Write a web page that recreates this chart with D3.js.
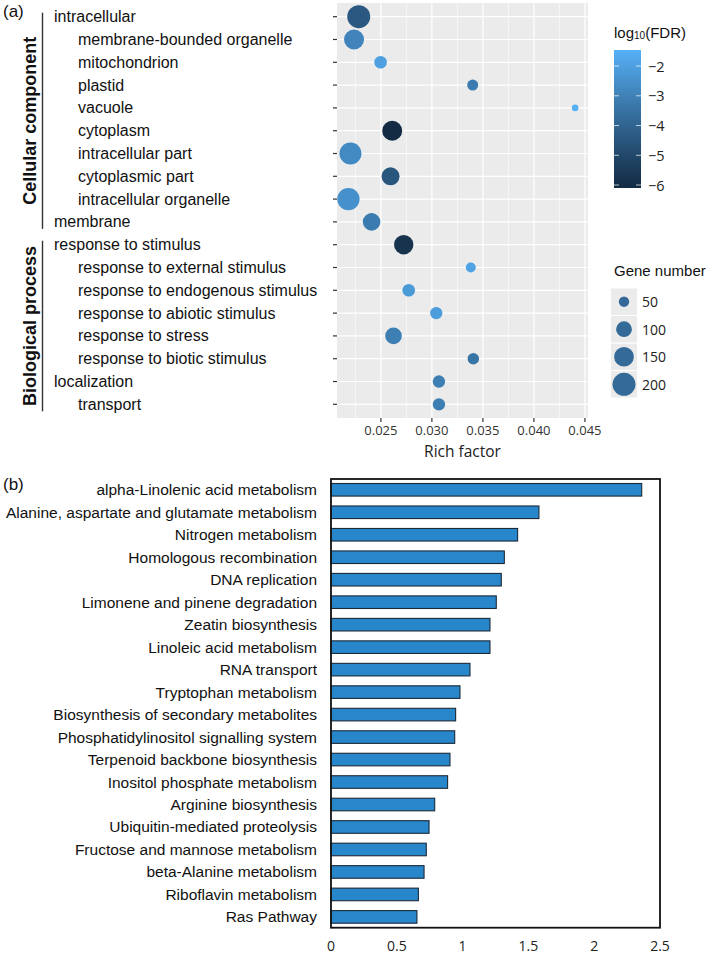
<!DOCTYPE html>
<html><head><meta charset="utf-8">
<script src="https://cdn.jsdelivr.net/npm/d3@7"></script>
<style>
body{margin:0;background:#fff;}
svg{display:block;font-family:"Liberation Sans",Arial,sans-serif;}
</style>
</head><body>
<svg id="chart" width="709" height="957"></svg>
<script>
// ---------- Panel (a) data ----------
const goTerms = ["intracellular","membrane-bounded organelle","mitochondrion","plastid","vacuole",
  "cytoplasm","intracellular part","cytoplasmic part","intracellular organelle","membrane",
  "response to stimulus","response to external stimulus","response to endogenous stimulus",
  "response to abiotic stimulus","response to stress","response to biotic stimulus",
  "localization","transport"];
const goIndent = [0,1,1,1,1,1,1,1,1,0, 0,1,1,1,1,1,0,1];
const goGroupOf = [0,0,0,0,0,0,0,0,0,0, 1,1,1,1,1,1,1,1];
const goGroups = ["Cellular component","Biological process"];
const richFactor = [0.02283,0.02237,0.02497,0.03400,0.04404,0.02611,0.02202,0.02595,0.02182,0.02409,
  0.02724,0.03381,0.02773,0.03043,0.02624,0.03406,0.03069,0.03069];
const geneNumber = [200,154,68,55,27,154,184,127,190,122, 146,47,68,66,110,59,66,66];
const log10FDR = [-4.4,-2.9,-2.0,-3.2,-1.46,-6.1,-2.7,-4.5,-2.5,-3.2, -5.8,-1.9,-2.2,-2.1,-3.1,-3.4,-3.1,-3.1];
const xTicksA = [0.025,0.030,0.035,0.040,0.045];
const fdrTicks = [-2,-3,-4,-5,-6];
const sizeBreaks = [50,100,150,200];

// ---------- Panel (b) data ----------
const pathways = ["alpha-Linolenic acid metabolism","Alanine, aspartate and glutamate metabolism",
  "Nitrogen metabolism","Homologous recombination","DNA replication","Limonene and pinene degradation",
  "Zeatin biosynthesis","Linoleic acid metabolism","RNA transport","Tryptophan metabolism",
  "Biosynthesis of secondary metabolites","Phosphatidylinositol signalling system",
  "Terpenoid backbone biosynthesis","Inositol phosphate metabolism","Arginine biosynthesis",
  "Ubiquitin-mediated proteolysis","Fructose and mannose metabolism","beta-Alanine metabolism",
  "Riboflavin metabolism","Ras Pathway"];
const enrichment = [2.361,1.580,1.418,1.317,1.294,1.256,1.208,1.208,1.056,0.980,
  0.947,0.940,0.904,0.886,0.788,0.745,0.724,0.707,0.664,0.653];
const xTicksB = [0,0.5,1,1.5,2,2.5];

const svg = d3.select("#chart");

// ================= Panel (a) =================
const A = {left:337, right:588, top:3, bottom:418};
const x = d3.scaleLinear().domain([0.0207,0.0453]).range([A.left,A.right]);
const y = d3.scalePoint().domain(goTerms).range([A.top,A.bottom]).padding(0.6);
const fdrExtent = d3.extent(log10FDR);
const color = d3.scaleLinear().domain(fdrExtent).range(["#132B43","#56B1F7"]).interpolate(d3.interpolateLab);
const area = d3.scaleLinear().domain([50,200]).range([27,132]);
const radius = n => Math.sqrt(Math.max(area(n),4));

const gA = svg.append("g");
gA.append("rect").attr("x",A.left).attr("y",A.top).attr("width",A.right-A.left).attr("height",A.bottom-A.top).attr("fill","#EBEBEB");
// minor grid
const minor = [];
for(let i=0;i<xTicksA.length-1;i++) minor.push((xTicksA[i]+xTicksA[i+1])/2);
minor.unshift(xTicksA[0]-0.0025);
gA.selectAll(".mn").data(minor.filter(v=>x(v)>A.left && x(v)<A.right)).join("line")
  .attr("x1",d=>x(d)).attr("x2",d=>x(d)).attr("y1",A.top).attr("y2",A.bottom)
  .attr("stroke","#fff").attr("stroke-width",0.6);
gA.selectAll(".mj").data(xTicksA).join("line")
  .attr("x1",d=>x(d)).attr("x2",d=>x(d)).attr("y1",A.top).attr("y2",A.bottom)
  .attr("stroke","#fff").attr("stroke-width",1.2);
gA.selectAll(".hz").data(goTerms).join("line")
  .attr("x1",A.left).attr("x2",A.right).attr("y1",d=>y(d)).attr("y2",d=>y(d))
  .attr("stroke","#fff").attr("stroke-width",1.2);
// ticks
gA.selectAll(".yt").data(goTerms).join("line")
  .attr("x1",A.left-4).attr("x2",A.left).attr("y1",d=>y(d)).attr("y2",d=>y(d))
  .attr("stroke","#333").attr("stroke-width",1.2);
gA.selectAll(".xt").data(xTicksA).join("line")
  .attr("x1",d=>x(d)).attr("x2",d=>x(d)).attr("y1",A.bottom).attr("y2",A.bottom+4)
  .attr("stroke","#333").attr("stroke-width",1.2);
gA.selectAll(".xl").data(xTicksA).join("text")
  .attr("x",d=>x(d)).attr("y",430).attr("text-anchor","middle").attr("dominant-baseline","central")
  .attr("font-family","'Open Sans',sans-serif").attr("font-size",13).attr("fill","#333")
  .text(d=>d3.format(".3f")(d));
gA.append("text").attr("x",(A.left+A.right)/2).attr("y",451).attr("text-anchor","middle")
  .attr("dominant-baseline","central").attr("font-family","'Open Sans',sans-serif").attr("font-size",15.5)
  .attr("fill","#222").text("Rich factor");
// y labels
gA.selectAll(".yl").data(goTerms).join("text")
  .attr("x",(d,i)=>goIndent[i]?78:54).attr("y",d=>y(d)).attr("dominant-baseline","central")
  .attr("font-size",16).attr("fill","#111").text(d=>d);
// group brackets
goGroups.forEach((g,gi)=>{
  const rows = goTerms.filter((t,i)=>goGroupOf[i]===gi);
  const y0 = y(rows[0])-4, y1 = y(rows[rows.length-1])+7;
  gA.append("line").attr("x1",42.5).attr("x2",42.5).attr("y1",y0).attr("y2",y1)
    .attr("stroke","#333").attr("stroke-width",1.4);
  gA.append("text").attr("transform",`translate(30,${(y0+y1)/2}) rotate(-90)`)
    .attr("text-anchor","middle").attr("dominant-baseline","central")
    .attr("font-size",18).attr("font-weight","bold").attr("fill","#111").text(g);
});
// points
gA.selectAll(".pt").data(goTerms).join("circle")
  .attr("cx",(d,i)=>x(richFactor[i])).attr("cy",d=>y(d))
  .attr("r",(d,i)=>radius(geneNumber[i])).attr("fill",(d,i)=>color(log10FDR[i]));

svg.append("text").attr("x",3).attr("y",17).attr("font-size",17).attr("fill","#111").text("(a)");

// ---- colour legend ----
const cb = {x:614, w:27, top:50, bottom:188};
const cy = d3.scaleLinear().domain([fdrExtent[1],fdrExtent[0]]).range([cb.top,cb.bottom]);
const defs = svg.append("defs");
const grad = defs.append("linearGradient").attr("id","fdrGrad").attr("x1",0).attr("x2",0).attr("y1",0).attr("y2",1);
d3.range(0,1.0001,0.1).forEach(t=>{
  grad.append("stop").attr("offset",t).attr("stop-color",color(fdrExtent[1]+(fdrExtent[0]-fdrExtent[1])*t));
});
svg.append("text").attr("x",614).attr("y",32).attr("dominant-baseline","central").attr("font-size",15).attr("fill","#111")
  .call(t=>{t.append("tspan").text("log");
    t.append("tspan").attr("font-size",10).attr("dy",3).text("10");
    t.append("tspan").attr("dy",-3).text("(FDR)");});
svg.append("rect").attr("x",cb.x).attr("y",cb.top).attr("width",cb.w).attr("height",cb.bottom-cb.top).attr("fill","url(#fdrGrad)");
const gcb = svg.append("g");
fdrTicks.forEach(v=>{
  gcb.append("line").attr("x1",cb.x).attr("x2",cb.x+5).attr("y1",cy(v)).attr("y2",cy(v)).attr("stroke","#fff").attr("stroke-opacity",0.7);
  gcb.append("line").attr("x1",cb.x+cb.w-5).attr("x2",cb.x+cb.w).attr("y1",cy(v)).attr("y2",cy(v)).attr("stroke","#fff").attr("stroke-opacity",0.7);
  gcb.append("text").attr("x",648).attr("y",cy(v)).attr("dominant-baseline","central").attr("font-family","'Open Sans',sans-serif")
    .attr("font-size",14.5).attr("fill","#222").text("\u2212"+Math.abs(v));
});

// ---- size legend ----
svg.append("text").attr("x",614).attr("y",270).attr("dominant-baseline","central").attr("font-size",15).attr("fill","#111").text("Gene number");
const sizeY = d3.scalePoint().domain(sizeBreaks).range([301.7,384.3]);
const gs = svg.append("g");
gs.selectAll("rect").data(sizeBreaks).join("rect")
  .attr("x",611).attr("y",d=>sizeY(d)-13.2).attr("width",26).attr("height",26.4).attr("fill","#EBEBEB");
gs.selectAll("circle").data(sizeBreaks).join("circle")
  .attr("cx",624).attr("cy",d=>sizeY(d)).attr("r",d=>radius(d)).attr("fill","#336A98");
gs.selectAll("text").data(sizeBreaks).join("text")
  .attr("x",642).attr("y",d=>sizeY(d)).attr("dominant-baseline","central").attr("font-family","'Open Sans',sans-serif")
  .attr("font-size",14).attr("fill","#222").text(d=>d);

// ================= Panel (b) =================
const B = {left:331, right:660, top:479, bottom:927.7};
const xb = d3.scaleLinear().domain([0,2.5]).range([B.left,B.right]);
const yb = d3.scaleBand().domain(pathways).range([B.top,B.bottom]).paddingInner(0.44).paddingOuter(0.2);
const gB = svg.append("g");
gB.selectAll(".bar").data(pathways).join("rect")
  .attr("x",xb(0)).attr("y",d=>yb(d)).attr("width",(d,i)=>xb(enrichment[i])-xb(0)).attr("height",yb.bandwidth())
  .attr("fill","#2886CB").attr("stroke","#1c2a38").attr("stroke-width",1.1);
gB.append("rect").attr("x",B.left).attr("y",B.top).attr("width",B.right-B.left).attr("height",B.bottom-B.top)
  .attr("fill","none").attr("stroke","#111").attr("stroke-width",1.8);
gB.selectAll(".bl").data(pathways).join("text")
  .attr("x",317).attr("y",d=>yb(d)+yb.bandwidth()/2).attr("text-anchor","end").attr("dominant-baseline","central")
  .attr("font-size",15.5).attr("fill","#111").text(d=>d);
gB.selectAll(".xl").data(xTicksB).join("text")
  .attr("x",d=>xb(d)).attr("y",945).attr("text-anchor","middle").attr("dominant-baseline","central")
  .attr("font-family","'Open Sans',sans-serif").attr("font-size",14).attr("fill","#222").text(d=>d);
svg.append("text").attr("x",3).attr("y",490).attr("font-size",17).attr("fill","#111").text("(b)");
</script>
</body></html>
